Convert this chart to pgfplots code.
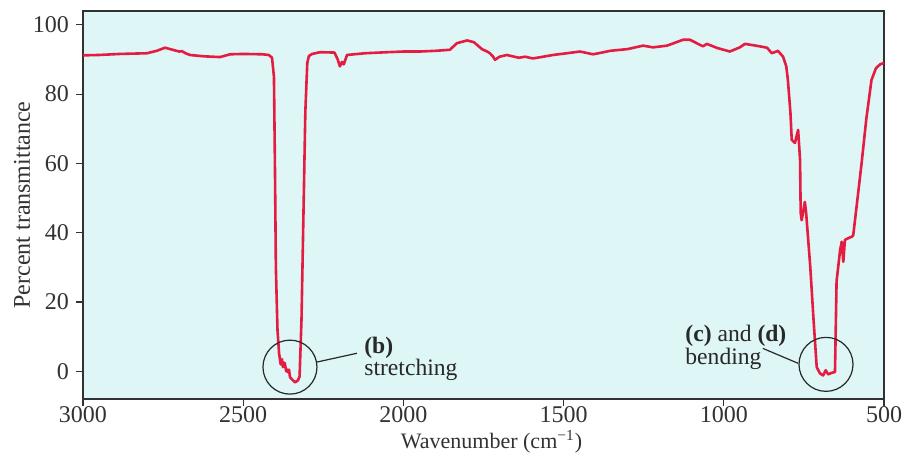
\documentclass[border=0pt]{standalone}
\usepackage{fontspec}
\setmainfont{Liberation Serif}
\usepackage{pgfplots}
\pgfplotsset{compat=1.18}

\definecolor{bgcyan}{RGB}{222,246,246}
\definecolor{specred}{RGB}{228,28,66}
\definecolor{axgray}{RGB}{50,50,50}
\definecolor{anngray}{RGB}{40,40,40}

\pgfplotstableread{
wn T
3000 91.2
2950 91.3
2885 91.6
2800 91.8
2770 92.5
2744 93.4
2720 92.8
2700 92.3
2691 92.4
2680 91.8
2666 91.3
2620 90.9
2572 90.7
2541 91.5
2500 91.6
2440 91.5
2420 91.3
2410 90.5
2404 85
2401 60
2398 30
2393 12
2388 5.2
2383 2.0
2379 3.5
2376 1.2
2373 2.5
2370 2.3
2366 0.0
2363 0.5
2360 -0.3
2357 0.5
2354 -1.7
2346 -2.5
2338 -3.2
2329 -2.6
2324 -1.5
2318 15
2313 40
2306 75
2300 89
2295 91
2285 91.6
2260 92.1
2215 92.0
2205 90
2198 88
2192 89.3
2186 88.6
2176 91.3
2120 91.8
2051 92.1
2000 92.3
1948 92.3
1900 92.5
1855 92.8
1833 94.7
1801 95.5
1780 95.0
1770 94.2
1755 93.0
1739 92.3
1730 91.8
1720 90.8
1714 89.9
1700 90.8
1677 91.3
1640 90.5
1620 90.8
1596 90.3
1570 90.7
1533 91.3
1490 91.8
1449 92.3
1408 91.5
1380 92.0
1355 92.5
1300 93.0
1252 94.0
1221 93.5
1177 94.0
1127 95.7
1106 95.7
1065 93.8
1053 94.5
1020 93.3
981 92.3
950 93.5
934 94.5
900 94.0
865 93.4
850 91.8
831 92.5
815 90.8
805 88
800 84.1
792 74.6
788 66.8
778 65.9
768 69.7
762 61
760 45.7
757 43.6
747 48.9
743 45.7
730 30
720 15
710 1.2
700 -0.6
690 -1.2
682 0.3
674 -0.9
665 -0.5
653 -0.2
648 26
637 35
632 37.4
627 31.6
622 37.9
610 38.5
601 38.8
596 39.3
585 48
570 60
555 73
539 84.1
525 87.5
512 88.6
500 89
}\spectrum

\begin{document}
\begin{tikzpicture}
\begin{axis}[
    name=ax,
    scale only axis,
    width=400.5pt,
    height=194pt,
    x dir=reverse,
    xmin=500, xmax=3000,
    ymin=-8, ymax=104,
    xtick={500,1000,...,3000},
    ytick={0,20,...,100},
    /pgf/number format/assume math mode=true,
    /pgf/number format/1000 sep={},
    tick align=outside,
    xtick pos=bottom,
    ytick pos=left,
    major tick length=3.5pt,
    tick style={axgray, line width=0.6pt},
    axis line style={axgray, line width=0.7pt},
    axis background/.style={fill=bgcyan},
    tick label style={font=\fontsize{12}{14}\selectfont, text=axgray},
    xticklabel style={yshift=1.8pt, inner sep=2pt},
    xlabel={Wavenumber (cm\textsuperscript{−1})},
    ylabel={Percent transmittance},
    xlabel style={font=\fontsize{11}{13}\selectfont, text=axgray, inner sep=1pt, at={(axis description cs:0.51,-0.127)}, anchor=base},
    ylabel style={font=\fontsize{12}{14}\selectfont, text=axgray, at={(axis description cs:-0.076,0.5)}, anchor=center},
    clip=false,
]
\addplot[specred, line width=1.3pt, line join=round] table[x=wn, y=T] {\spectrum};

\draw[anngray, line width=0.6pt] (axis cs:2354,1.2) circle[radius=13.5pt];
\draw[anngray, line width=0.6pt] (axis cs:681,2) circle[radius=13.5pt];
\draw[anngray, line width=0.6pt] (axis cs:2273,2.6) -- (axis cs:2145,5.2);
\draw[anngray, line width=0.6pt] (axis cs:878,6.6) -- (axis cs:768,2.3);

\node[anchor=base west, inner sep=0pt, text=anngray, font=\fontsize{11.8}{13}\selectfont] at (axis cs:2123,5.0) {\textbf{(b)}};
\node[anchor=base west, inner sep=0pt, text=anngray, font=\fontsize{11.8}{13}\selectfont] at (axis cs:2123,-1.3) {stretching};
\node[anchor=base west, inner sep=0pt, text=anngray, font=\fontsize{11.8}{13}\selectfont] at (axis cs:1121,8.6) {\textbf{(c)} and \textbf{(d)}};
\node[anchor=base west, inner sep=0pt, text=anngray, font=\fontsize{11.8}{13}\selectfont] at (axis cs:1121,2.1) {bending};
\end{axis}
\path (ax.south west) ++(-41.5pt,-32.5pt) coordinate (bbsw);
\path (ax.north east) ++(11.5pt,5.5pt) coordinate (bbne);
\path (bbsw) rectangle (bbne);
\end{tikzpicture}
\end{document}
